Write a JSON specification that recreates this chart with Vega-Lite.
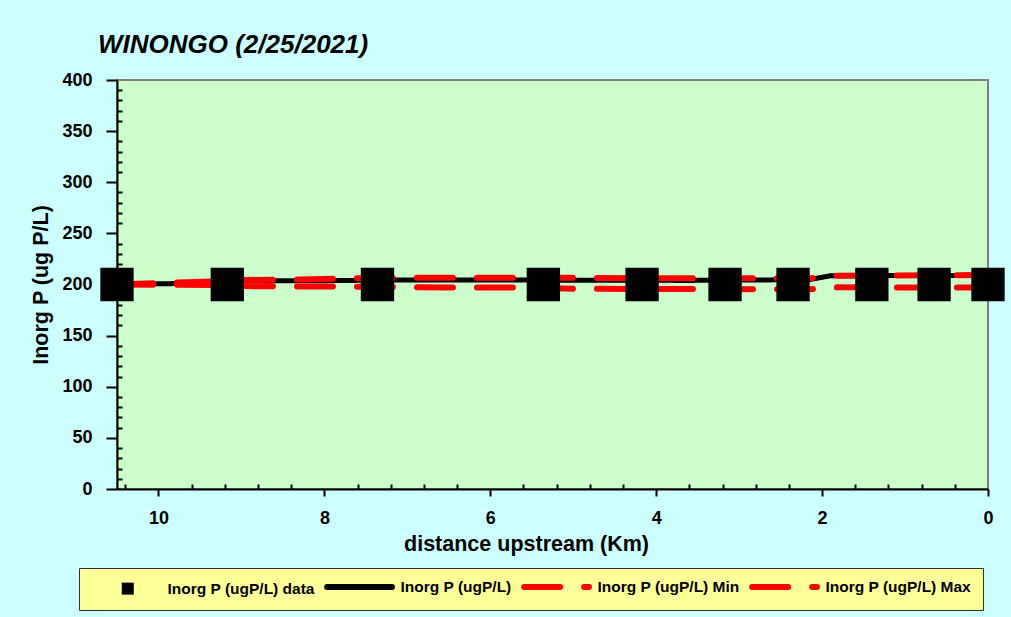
{
  "$schema": "https://vega.github.io/schema/vega-lite/v6.json",
  "width": 871,
  "height": 409,
  "autosize": {"type": "none"},
  "padding": {"left": 117, "top": 80, "right": 23, "bottom": 128},
  "background": "#CCFFFF",
  "title": {
    "text": "WINONGO (2/25/2021)",
    "anchor": "start",
    "frame": "group",
    "font": "Liberation Sans",
    "fontSize": 26,
    "fontStyle": "italic",
    "fontWeight": "bold",
    "color": "black",
    "baseline": "alphabetic",
    "dx": -19,
    "dy": 25,
    "offset": 17
  },
  "data": {
    "values": [
      {"series": "Inorg P (ugP/L)", "km": 10.5, "p": 200},
      {"series": "Inorg P (ugP/L)", "km": 9.35, "p": 201.5},
      {"series": "Inorg P (ugP/L)", "km": 8.97, "p": 203.4},
      {"series": "Inorg P (ugP/L)", "km": 7.94, "p": 203.8},
      {"series": "Inorg P (ugP/L)", "km": 7.1, "p": 204.4},
      {"series": "Inorg P (ugP/L)", "km": 5.89, "p": 204.4},
      {"series": "Inorg P (ugP/L)", "km": 3.59, "p": 204},
      {"series": "Inorg P (ugP/L)", "km": 2.63, "p": 204.5},
      {"series": "Inorg P (ugP/L)", "km": 2.14, "p": 205},
      {"series": "Inorg P (ugP/L)", "km": 1.9, "p": 208.5},
      {"series": "Inorg P (ugP/L)", "km": 0, "p": 209},
      {"series": "Inorg P (ugP/L) Min", "km": 10.5, "p": 200},
      {"series": "Inorg P (ugP/L) Min", "km": 9.17, "p": 199.5},
      {"series": "Inorg P (ugP/L) Min", "km": 8.97, "p": 198.5},
      {"series": "Inorg P (ugP/L) Min", "km": 8.3, "p": 198},
      {"series": "Inorg P (ugP/L) Min", "km": 7.7, "p": 198},
      {"series": "Inorg P (ugP/L) Min", "km": 6.85, "p": 197.2},
      {"series": "Inorg P (ugP/L) Min", "km": 5.65, "p": 197},
      {"series": "Inorg P (ugP/L) Min", "km": 5.1, "p": 196},
      {"series": "Inorg P (ugP/L) Min", "km": 4.2, "p": 195.6},
      {"series": "Inorg P (ugP/L) Min", "km": 3.47, "p": 195.5},
      {"series": "Inorg P (ugP/L) Min", "km": 2.14, "p": 195.4},
      {"series": "Inorg P (ugP/L) Min", "km": 1.9, "p": 197.2},
      {"series": "Inorg P (ugP/L) Min", "km": 0, "p": 197},
      {"series": "Inorg P (ugP/L) Max", "km": 10.5, "p": 200},
      {"series": "Inorg P (ugP/L) Max", "km": 9.17, "p": 203.5},
      {"series": "Inorg P (ugP/L) Max", "km": 8.97, "p": 204.4},
      {"series": "Inorg P (ugP/L) Max", "km": 8.3, "p": 205},
      {"series": "Inorg P (ugP/L) Max", "km": 7.7, "p": 206},
      {"series": "Inorg P (ugP/L) Max", "km": 6.85, "p": 206.7},
      {"series": "Inorg P (ugP/L) Max", "km": 5.1, "p": 206.7},
      {"series": "Inorg P (ugP/L) Max", "km": 4.2, "p": 206},
      {"series": "Inorg P (ugP/L) Max", "km": 2.14, "p": 206},
      {"series": "Inorg P (ugP/L) Max", "km": 1.9, "p": 208.6},
      {"series": "Inorg P (ugP/L) Max", "km": 0, "p": 209.3},
      {"series": "Inorg P (ugP/L) data", "km": 10.5, "p": 200},
      {"series": "Inorg P (ugP/L) data", "km": 9.17, "p": 200},
      {"series": "Inorg P (ugP/L) data", "km": 7.36, "p": 200},
      {"series": "Inorg P (ugP/L) data", "km": 5.36, "p": 200},
      {"series": "Inorg P (ugP/L) data", "km": 4.17, "p": 200},
      {"series": "Inorg P (ugP/L) data", "km": 3.17, "p": 200},
      {"series": "Inorg P (ugP/L) data", "km": 2.35, "p": 200},
      {"series": "Inorg P (ugP/L) data", "km": 1.4, "p": 200},
      {"series": "Inorg P (ugP/L) data", "km": 0.65, "p": 200},
      {"series": "Inorg P (ugP/L) data", "km": 0, "p": 200}
    ]
  },
  "encoding": {
    "x": {
      "field": "km",
      "type": "quantitative",
      "scale": {"domain": [0, 10.5], "reverse": true, "nice": false, "zero": false},
      "axis": {
        "title": "distance upstream (Km)",
        "values": [0, 0.4, 0.8, 1.2, 1.6, 2, 2.4, 2.8, 3.2, 3.6, 4, 4.4, 4.8, 5.2, 5.6, 6, 6.4, 6.8, 7.2, 7.6, 8, 8.4, 8.8, 9.2, 9.6, 10, 10.4],
        "labelExpr": "abs(datum.value - round(datum.value / 2) * 2) < 0.01 ? format(datum.value, 'd') : ''",
        "tickSize": {"condition": {"test": "abs(datum.value - round(datum.value / 2) * 2) < 0.01", "value": 7}, "value": -5},
        "labelPadding": 13,
        "titleX": 409,
        "titlePadding": 6
      }
    },
    "y": {
      "field": "p",
      "type": "quantitative",
      "scale": {"domain": [0, 400], "nice": false},
      "axis": {
        "title": "Inorg P (ug P/L)",
        "values": [0, 10, 20, 30, 40, 50, 60, 70, 80, 90, 100, 110, 120, 130, 140, 150, 160, 170, 180, 190, 200, 210, 220, 230, 240, 250, 260, 270, 280, 290, 300, 310, 320, 330, 340, 350, 360, 370, 380, 390, 400],
        "labelExpr": "datum.value % 50 === 0 ? datum.label : ''",
        "tickSize": {"condition": {"test": "datum.value % 50 === 0", "value": 11}, "value": -5},
        "labelPadding": 14,
        "titlePadding": 9
      }
    }
  },
  "layer": [
    {
      "transform": [{"filter": "datum.series === 'Inorg P (ugP/L)'"}],
      "mark": {"type": "line", "strokeWidth": 5, "strokeCap": "round", "strokeJoin": "round"},
      "encoding": {
        "color": {
          "field": "series",
          "type": "nominal",
          "scale": {
            "domain": ["Inorg P (ugP/L) data", "Inorg P (ugP/L)", "Inorg P (ugP/L) Min", "Inorg P (ugP/L) Max"],
            "range": ["#000000", "#000000", "#FF0000", "#FF0000"]
          },
          "legend": {
            "orient": "none",
            "legendX": -38,
            "legendY": 488,
            "direction": "horizontal",
            "columns": 4,
            "columnPadding": 0,
            "title": null,
            "padding": 11,
            "fillColor": "#FFFF99",
            "strokeColor": "#333333",
            "symbolSize": 144,
            "symbolStrokeWidth": 6,
            "labelOffset": 62,
            "labelFont": "Liberation Sans",
            "labelFontSize": 15.5,
            "labelFontWeight": "bold",
            "labelColor": "black",
            "labelLimit": 400,
            "encode": {
              "symbols": {
                "update": {
                  "shape": {"signal": "datum.value === 'Inorg P (ugP/L) data' ? 'M4,-1H6V1H4Z' : 'M-0.6,0H10.2'"},
                  "fill": {"signal": "datum.value === 'Inorg P (ugP/L) data' ? '#000000' : 'transparent'"},
                  "strokeWidth": {"signal": "datum.value === 'Inorg P (ugP/L) data' ? 0 : 6"},
                  "strokeCap": {"value": "round"}
                }
              }
            }
          }
        },
        "strokeDash": {
          "field": "series",
          "type": "nominal",
          "scale": {
            "domain": ["Inorg P (ugP/L) data", "Inorg P (ugP/L)", "Inorg P (ugP/L) Min", "Inorg P (ugP/L) Max"],
            "range": [[1, 0], [1, 0], [36, 24], [36, 24]]
          }
        }
      }
    },
    {
      "transform": [{"filter": "datum.series === 'Inorg P (ugP/L) Min' || datum.series === 'Inorg P (ugP/L) Max'"}],
      "mark": {"type": "line", "strokeWidth": 6, "strokeCap": "round", "strokeJoin": "round"},
      "encoding": {
        "color": {"field": "series", "type": "nominal"},
        "strokeDash": {"field": "series", "type": "nominal"}
      }
    },
    {
      "transform": [{"filter": "datum.series === 'Inorg P (ugP/L) data'"}],
      "mark": {"type": "point", "shape": "square", "filled": true, "size": 1110, "color": "#000000", "opacity": 1, "clip": false},
      "encoding": {}
    }
  ],
  "config": {
    "view": {"fill": "#CCFFCC", "stroke": "#808080", "strokeWidth": 2},
    "axis": {
      "grid": false,
      "domainColor": "#000000",
      "domainWidth": 2,
      "tickColor": "#000000",
      "tickWidth": 2,
      "labelFont": "Liberation Sans",
      "labelFontSize": 18,
      "labelFontWeight": "bold",
      "labelColor": "#000000",
      "titleFont": "Liberation Sans",
      "titleFontSize": 21.5,
      "titleFontWeight": "bold",
      "titleColor": "#000000",
      "labelFlush": false,
      "labelOverlap": false
    }
  }
}
